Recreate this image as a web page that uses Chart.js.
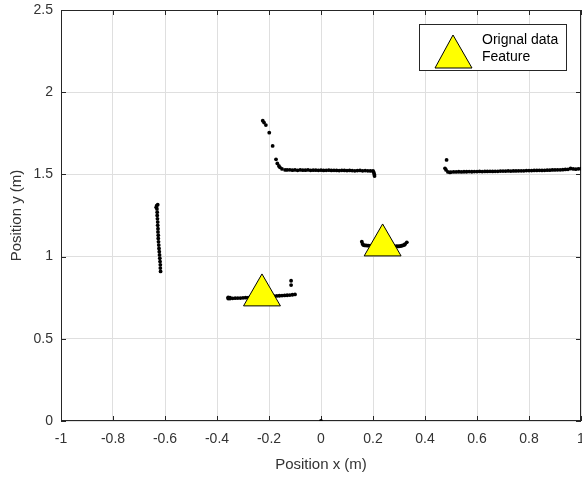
<!DOCTYPE html>
<html><head><meta charset="utf-8">
<script src="https://cdn.jsdelivr.net/npm/chart.js@4.4.0/dist/chart.umd.min.js"></script>
<style>html,body{margin:0;padding:0;background:#fff;overflow:hidden}#wrap{width:582px;height:478px}</style>
</head><body><div id="wrap"><canvas id="c" width="582" height="478"></canvas></div>
<script>
const xTickLabels = ['-1','-0.8','-0.6','-0.4','-0.2','0','0.2','0.4','0.6','0.8','1'];
const yTickLabels = ['0','0.5','1','1.5','2','2.5'];
const seriesNames = ['Orignal data','Feature'];
const xTitle = 'Position x (m)';
const yTitle = 'Position y (m)';

// vertical wall near x = -0.63
const segAx = [-0.634,-0.628,-0.632,-0.631,-0.630,-0.630,-0.629,-0.628,-0.628,-0.627,-0.627,-0.626,-0.626,-0.625,-0.624,-0.623,-0.622,-0.621,-0.620,-0.619,-0.618,-0.618,-0.617];
const segAy = [1.300,1.316,1.310,1.290,1.270,1.250,1.230,1.210,1.190,1.170,1.150,1.130,1.110,1.090,1.070,1.050,1.030,1.010,0.990,0.970,0.950,0.930,0.910];

// curve and wall at y ~ 1.53
const segBx = [-0.224,-0.219,-0.212,-0.199,-0.186,-0.173,-0.168,-0.162,-0.158,-0.150,-0.138,
  -0.13,-0.12,-0.11,-0.10,-0.09,-0.08,-0.07,-0.06,-0.05,-0.04,-0.03,-0.02,-0.01,0.00,0.01,0.02,0.03,0.04,0.05,0.06,0.07,0.08,0.09,0.10,0.11,0.12,0.13,0.14,0.15,0.16,0.17,0.18,0.19,0.20,
  0.203,0.205,0.206];
const segBy = [1.827,1.815,1.800,1.754,1.673,1.592,1.567,1.551,1.543,1.533,1.527,
  1.527,1.528,1.526,1.527,1.525,1.527,1.526,1.526,1.527,1.525,1.526,1.526,1.525,1.526,1.524,1.525,1.526,1.524,1.525,1.524,1.523,1.525,1.524,1.523,1.524,1.523,1.522,1.523,1.524,1.522,1.523,1.522,1.521,1.522,
  1.512,1.500,1.490];

// right wall
const segCx = [0.483,0.477,0.481,0.488,0.496,
  0.50,0.51,0.52,0.53,0.54,0.55,0.56,0.57,0.58,0.59,0.60,0.61,0.62,0.63,0.64,0.65,0.66,0.67,0.68,0.69,0.70,0.71,0.72,0.73,0.74,0.75,0.76,0.77,0.78,0.79,0.80,0.81,0.82,0.83,0.84,0.85,0.86,0.87,0.88,0.89,0.90,0.91,0.92,0.93,0.94,0.95,0.96,0.97,0.98,0.99,1.00];
const segCy = [1.588,1.537,1.527,1.515,1.512,
  1.514,1.515,1.515,1.516,1.515,1.516,1.516,1.517,1.516,1.517,1.517,1.518,1.517,1.518,1.518,1.519,1.518,1.519,1.519,1.520,1.520,1.520,1.521,1.520,1.521,1.521,1.522,1.522,1.522,1.523,1.523,1.523,1.524,1.524,1.525,1.524,1.525,1.526,1.526,1.527,1.527,1.528,1.528,1.529,1.530,1.531,1.536,1.533,1.532,1.534,1.535];

// lower-left object
const segDx = [-0.357,-0.350,-0.357,-0.35,-0.34,-0.33,-0.32,-0.31,-0.30,-0.29,-0.28,-0.27,-0.26,-0.25,-0.24,-0.23,-0.22,-0.21,-0.20,-0.19,-0.18,-0.17,-0.16,-0.15,-0.14,-0.13,-0.12,-0.11,-0.10,-0.115,-0.115];
const segDy = [0.752,0.750,0.745,0.745,0.746,0.747,0.748,0.748,0.749,0.750,0.751,0.752,0.752,0.753,0.754,0.755,0.756,0.757,0.758,0.759,0.760,0.761,0.762,0.763,0.764,0.765,0.766,0.768,0.770,0.827,0.853];

// object near x = 0.24
const segEx = [0.157,0.160,0.163,0.168,0.173,0.178,0.183,0.190,0.20,0.21,0.22,0.23,0.24,0.25,0.26,0.27,0.28,0.29,0.295,0.300,0.305,0.310,0.315,0.320,0.323,0.330];
const segEy = [1.091,1.077,1.070,1.068,1.068,1.067,1.067,1.066,1.066,1.066,1.066,1.066,1.066,1.066,1.066,1.065,1.065,1.064,1.062,1.063,1.064,1.066,1.068,1.071,1.075,1.087];

// single point at origin
const segFx = [0];
const segFy = [0];

const featureX = [-0.227, 0.237];
const featureY = [0.765, 1.069];

function toPts(xs, ys){ return xs.map((v,i)=>({x:v, y:ys[i]})); }
const originalPts = [].concat(
  toPts(segAx,segAy), toPts(segBx,segBy), toPts(segCx,segCy),
  toPts(segDx,segDy), toPts(segEx,segEy), toPts(segFx,segFy));
const featurePts = toPts(featureX, featureY);

const AXC = '#262626';
const FONT = '"Liberation Sans", Arial, sans-serif';

const framePlugin = {
  id: 'frame',
  beforeDatasetsDraw(chart){
    const {ctx, chartArea:a, scales:{x, y}} = chart;
    ctx.save();
    ctx.strokeStyle = AXC; ctx.lineWidth = 1;
    ctx.strokeRect(a.left+0.5, a.top+0.5, a.right-a.left-1, a.bottom-a.top-1);
    ctx.beginPath();
    x.ticks.forEach(t => {
      const p = Math.round(x.getPixelForValue(t.value)) + 0.5;
      ctx.moveTo(p, a.bottom); ctx.lineTo(p, a.bottom-5);
      ctx.moveTo(p, a.top); ctx.lineTo(p, a.top+5);
    });
    y.ticks.forEach(t => {
      const p = Math.round(y.getPixelForValue(t.value)) + 0.5;
      ctx.moveTo(a.left, p); ctx.lineTo(a.left+5, p);
      ctx.moveTo(a.right, p); ctx.lineTo(a.right-5, p);
    });
    ctx.stroke();
    ctx.restore();
  },
  afterDraw(chart){
    const ctx = chart.ctx;
    ctx.save();
    ctx.fillStyle = '#fff'; ctx.strokeStyle = AXC; ctx.lineWidth = 1;
    ctx.fillRect(419.5, 24.5, 147, 46);
    ctx.strokeRect(419.5, 24.5, 147, 46);
    ctx.beginPath();
    ctx.moveTo(453, 35); ctx.lineTo(472, 68); ctx.lineTo(435, 68); ctx.closePath();
    ctx.fillStyle = '#ffff00'; ctx.fill();
    ctx.strokeStyle = '#000'; ctx.stroke();
    ctx.fillStyle = '#000';
    ctx.font = '14px ' + FONT;
    ctx.textBaseline = 'middle'; ctx.textAlign = 'left';
    ctx.fillText(seriesNames[0], 482, 40);
    ctx.fillText(seriesNames[1], 482, 57);
    ctx.restore();
  }
};

new Chart(document.getElementById('c'), {
  type: 'scatter',
  data: {
    datasets: [
      { label: seriesNames[0], data: originalPts, order: 2,
        pointRadius: 1.9, pointBackgroundColor: '#000', pointBorderWidth: 0, pointBorderColor: '#000' },
      { label: seriesNames[1], data: featurePts, order: 1,
        pointStyle: 'triangle', pointRadius: 21.3, pointBackgroundColor: '#ffff00',
        pointBorderColor: '#000', pointBorderWidth: 1 }
    ]
  },
  options: {
    responsive: false, animation: false, devicePixelRatio: 1,
    layout: { autoPadding: false, padding: { top: 10, right: 1, left: 0, bottom: 0 } },
    plugins: { legend: { display: false }, tooltip: { enabled: false } },
    scales: {
      x: {
        type: 'linear', min: -1, max: 1,
        grid: { color: '#dfdfdf', drawTicks: false },
        border: { display: false },
        ticks: { stepSize: 0.2, autoSkip: false, maxRotation: 0, padding: 10, color: '#333',
          font: { family: FONT, size: 14 },
          callback: (v, i) => xTickLabels[i] },
        title: { display: true, text: xTitle, color: '#333', font: { family: FONT, size: 15 },
          padding: { top: 0, bottom: 4 } },
        afterFit(s){ s.height = 57; s.paddingLeft = 0; s.paddingRight = 0; }
      },
      y: {
        type: 'linear', min: 0, max: 2.5,
        grid: { color: '#dfdfdf', drawTicks: false },
        border: { display: false },
        ticks: { stepSize: 0.5, autoSkip: false, padding: 8, color: '#333',
          font: { family: FONT, size: 14 },
          callback: (v, i) => yTickLabels[i] },
        title: { display: true, text: yTitle, color: '#333', font: { family: FONT, size: 15 },
          padding: { top: 8, bottom: 0 } },
        afterFit(s){ s.width = 61; s.paddingTop = 0; s.paddingBottom = 0; }
      }
    }
  },
  plugins: [framePlugin]
});
</script></body></html>
